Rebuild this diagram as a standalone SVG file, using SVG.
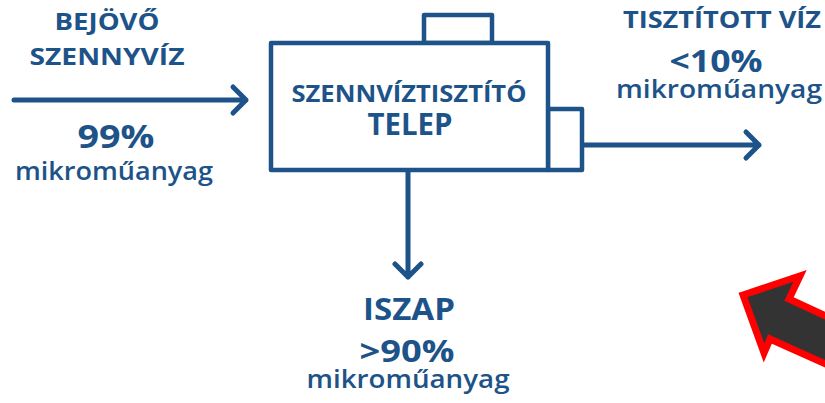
<svg xmlns="http://www.w3.org/2000/svg" width="825" height="403" viewBox="0 0 825 403">
<style>
.ln{fill:none;stroke:#1d5389;stroke-width:5;stroke-linecap:round;stroke-linejoin:round}
.bx{fill:#fff;stroke:#1d5389;stroke-width:4.5;stroke-linejoin:round}
.t{font-family:"Open Sans","Noto Sans",sans-serif;font-weight:700;fill:#1d5389;text-anchor:middle}
.s{font-family:"Open Sans","Noto Sans",sans-serif;font-weight:600;fill:#1d5389;text-anchor:middle}
</style>
<rect width="825" height="403" fill="#fff"/>
<g id="connectors">
<path class="ln" d="M14 100H246M233 87L246 100L233 113"/>
<path class="ln" d="M583 145H759M746 132L759 145L746 158"/>
<path class="ln" d="M408 172V277M395 264L408 277L421 264"/>
</g>
<g id="plant">
<rect class="bx" x="424" y="15" width="68" height="28"/>
<rect class="bx" x="548" y="109" width="34" height="61"/>
<rect class="bx" x="271" y="43" width="277" height="127"/>
<text class="t" x="409" y="102" font-size="23" textLength="235" lengthAdjust="spacingAndGlyphs">SZENNVÍZTISZTÍTÓ</text>
<text class="t" x="410" y="135" font-size="31" textLength="85" lengthAdjust="spacingAndGlyphs">TELEP</text>
</g>
<g id="inflow">
<text class="t" x="107" y="30" font-size="24" textLength="105" lengthAdjust="spacingAndGlyphs">BEJÖVŐ</text>
<text class="t" x="107" y="65" font-size="24" textLength="155" lengthAdjust="spacingAndGlyphs">SZENNYVÍZ</text>
<text class="t" x="116" y="148" font-size="32" textLength="77" lengthAdjust="spacingAndGlyphs">99%</text>
<text class="s" x="114" y="180" font-size="25" textLength="198" lengthAdjust="spacingAndGlyphs">mikroműanyag</text>
</g>
<g id="outflow">
<text class="t" x="722" y="28" font-size="23" textLength="198" lengthAdjust="spacingAndGlyphs">TISZTÍTOTT VÍZ</text>
<text class="t" x="716" y="72" font-size="31" textLength="93" lengthAdjust="spacingAndGlyphs">&lt;10%</text>
<text class="s" x="719" y="98" font-size="25" textLength="206" lengthAdjust="spacingAndGlyphs">mikroműanyag</text>
</g>
<g id="sludge">
<text class="t" x="409" y="320" font-size="31" textLength="92" lengthAdjust="spacingAndGlyphs">ISZAP</text>
<text class="t" x="407" y="362" font-size="31" textLength="95" lengthAdjust="spacingAndGlyphs">&gt;90%</text>
<text class="s" x="408" y="388" font-size="25" textLength="203" lengthAdjust="spacingAndGlyphs">mikroműanyag</text>
</g>
<g id="pointer">
<polygon points="743,295 800,276 789,299 850,327 850,375 770,339 764,353" fill="#333" stroke="#f00" stroke-width="7" stroke-linejoin="miter"/>
</g>
</svg>
